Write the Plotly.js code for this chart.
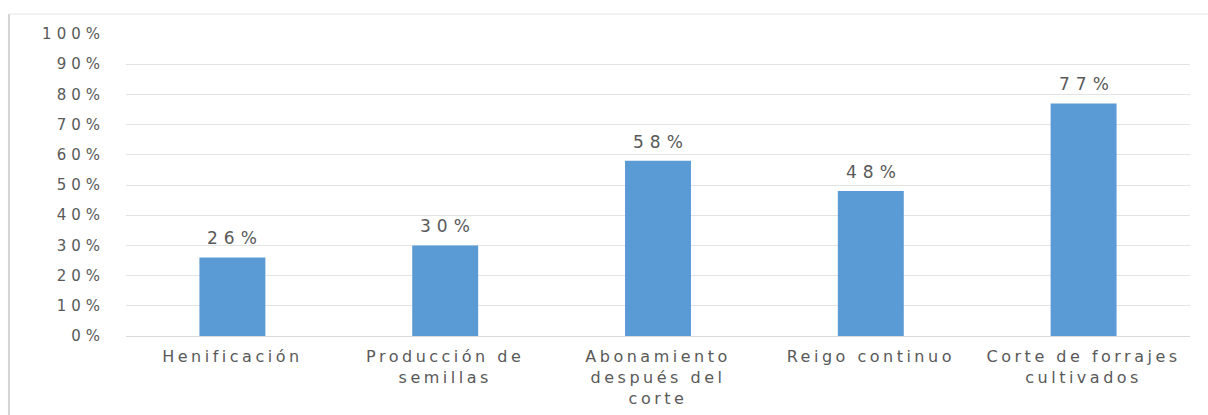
<!DOCTYPE html>
<html>
<head>
<meta charset="utf-8">
<script src="https://cdn.plot.ly/plotly-3.0.1.min.js"></script>
<style>
html,body{margin:0;padding:0;background:#fff;}
#chart{width:1208px;height:415px;}
#chart .ytick text{letter-spacing:5px;}
#chart .xtick text{letter-spacing:3.5px;}
#chart .annotation-text{letter-spacing:6px;}
</style>
</head>
<body>
<div id="chart"></div>
<script>
var categories = ["Henificación", "Producción de<br>semillas", "Abonamiento<br>después del<br>corte", "Reigo continuo", "Corte de forrajes<br>cultivados"];
var values = [0.26, 0.30, 0.58, 0.48, 0.77];
var valueLabels = ["26%", "30%", "58%", "48%", "77%"];
var tickValues = [0, 0.1, 0.2, 0.3, 0.4, 0.5, 0.6, 0.7, 0.8, 0.9, 1.0];
var tickLabels = ["0%", "10%", "20%", "30%", "40%", "50%", "60%", "70%", "80%", "90%", "100%"];

var trace = {
  type: "bar",
  x: categories,
  y: values,
  marker: {color: "#5B9BD5"},
  hoverinfo: "none"
};

var annotations = categories.map(function (c, i) {
  return {
    x: c, y: values[i], xref: "x", yref: "y",
    text: valueLabels[i],
    showarrow: false,
    yanchor: "bottom",
    xshift: 3,
    yshift: 7,
    font: {family: "DejaVu Sans", size: 17, color: "#595959"}
  };
});

var layout = {
  width: 1208,
  height: 415,
  margin: {l: 126, r: 18, t: 34, b: 79},
  paper_bgcolor: "#ffffff",
  plot_bgcolor: "#ffffff",
  bargap: 0.69,
  showlegend: false,
  font: {family: "DejaVu Sans", size: 15, color: "#595959"},
  xaxis: {
    showgrid: false,
    showline: false,
    zeroline: false,
    ticks: "",
    tickangle: 0,
    ticklabelstandoff: 9,
    tickfont: {family: "DejaVu Sans", size: 16, color: "#595959"},
    automargin: false
  },
  yaxis: {
    range: [0, 1.0],
    tickvals: tickValues,
    ticktext: tickLabels,
    showgrid: true,
    gridcolor: "#e3e3e3",
    gridwidth: 1,
    zeroline: true,
    zerolinecolor: "#d9d9d9",
    showline: false,
    ticks: "",
    ticklabelstandoff: 20,
    tickfont: {family: "DejaVu Sans", size: 15, color: "#595959"},
    automargin: false
  },
  annotations: annotations,
  shapes: [
    {type: "line", xref: "paper", yref: "paper", x0: -0.110, x1: -0.110, y0: 1.066, y1: -0.3, line: {color: "#d4d4d4", width: 2}},
    {type: "line", xref: "paper", yref: "paper", x0: -0.110, x1: 1.02, y0: 1.066, y1: 1.066, line: {color: "#e6e6e6", width: 1}}
  ]
};

Plotly.newPlot("chart", [trace], layout, {displayModeBar: false, staticPlot: true});
</script>
</body>
</html>
